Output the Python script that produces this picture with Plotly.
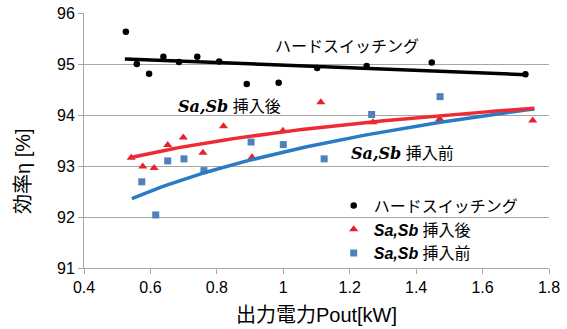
import numpy as np
import plotly.graph_objects as go

# Data
hard_x = [0.526, 0.559, 0.596, 0.639, 0.686, 0.741, 0.807, 0.890, 0.986, 1.102, 1.251, 1.447, 1.729]
hard_y = [95.63, 95.00, 94.81, 95.14, 95.04, 95.14, 95.05, 94.61, 94.63, 94.92, 94.96, 95.03, 94.80]

after_x = [0.542, 0.577, 0.611, 0.652, 0.699, 0.758, 0.820, 0.906, 0.999, 1.113, 1.270, 1.471, 1.751]
after_y = [93.16, 92.99, 92.96, 93.41, 93.56, 93.26, 93.78, 93.17, 93.69, 94.25, 93.86, 93.92, 93.89]

before_x = [0.574, 0.616, 0.652, 0.701, 0.761, 0.903, 1.000, 1.123, 1.266, 1.472]
before_y = [92.69, 92.04, 93.10, 93.14, 92.91, 93.47, 93.42, 93.14, 94.01, 94.36]

# Trendline parameters
hard_trend_x = [0.523, 1.729]
hard_trend_y = [95.10, 94.79]
after_trend = {"a": 0.82, "b": 93.67, "xmin": 0.541, "xmax": 1.756}     # y = a ln x + b
before_trend = {"a": 1.502, "b": 93.274, "xmin": 0.544, "xmax": 1.756}

x_ticks = [0.4, 0.6, 0.8, 1.0, 1.2, 1.4, 1.6, 1.8]
x_tick_text = ["0.4", "0.6", "0.8", "1", "1.2", "1.4", "1.6", "1.8"]
y_ticks = [91, 92, 93, 94, 95, 96]

names = ["ハードスイッチング", "<b><i>Sa,Sb</i></b> 挿入後", "<b><i>Sa,Sb</i></b> 挿入前"]

BLACK = "#000000"
RED_M = "#E8202A"
RED_L = "#EE2A33"
BLUE_M = "#4F81BD"
BLUE_L = "#2A7BC4"

JP = "Liberation Sans, Arial, Noto Sans CJK JP"
SERIF_SASB = "<b><i><span style='font-family:DejaVu Serif'>Sa,Sb</span></i></b>"

def log_curve(p):
    xs = np.linspace(p["xmin"], p["xmax"], 60)
    return xs, p["a"] * np.log(xs) + p["b"]

fig = go.Figure()

ax, ay = log_curve(after_trend)
bx, by = log_curve(before_trend)

fig.add_trace(go.Scatter(x=hard_trend_x, y=hard_trend_y, mode="lines",
                         line=dict(color=BLACK, width=3.5), showlegend=False, hoverinfo="skip"))
fig.add_trace(go.Scatter(x=before_x, y=before_y, mode="markers", name=names[2],
                         marker=dict(symbol="square", size=7, color=BLUE_M), legendrank=3))
fig.add_trace(go.Scatter(x=after_x, y=after_y, mode="markers", name=names[1],
                         marker=dict(symbol="triangle-up", size=8, color=RED_M), legendrank=2))
fig.add_trace(go.Scatter(x=bx, y=by, mode="lines",
                         line=dict(color=BLUE_L, width=3.5), showlegend=False, hoverinfo="skip"))
fig.add_trace(go.Scatter(x=ax, y=ay, mode="lines",
                         line=dict(color=RED_L, width=3.5), showlegend=False, hoverinfo="skip"))
fig.add_trace(go.Scatter(x=hard_x, y=hard_y, mode="markers", name=names[0],
                         marker=dict(symbol="circle", size=6.5, color=BLACK), legendrank=1))

fig.update_layout(
    width=567, height=329,
    margin=dict(l=84, r=18, t=13, b=61),
    paper_bgcolor="white", plot_bgcolor="white",
    font=dict(family=JP, size=16, color="#000"),
    showlegend=True,
    legend=dict(x=0.537, xanchor="left", y=-0.01, yanchor="bottom",
                bgcolor="rgba(0,0,0,0)", font=dict(family=JP, size=16, color="#000"),
                itemwidth=30, tracegroupgap=0),
    xaxis=dict(range=[0.4, 1.8], tickvals=x_ticks, ticktext=x_tick_text,
               showgrid=False, showline=True, linecolor="#A6A6A6", linewidth=1,
               ticks="outside", ticklen=5, tickcolor="#A6A6A6",
               tickfont=dict(family="Liberation Sans, Arial", size=16, color="#000"),
               title=dict(text="出力電力Pout[kW]", font=dict(family=JP, size=20, color="#000"),
                          standoff=12),
               zeroline=False, automargin=False),
    yaxis=dict(range=[91, 96], tickvals=y_ticks,
               showgrid=True, gridcolor="#A6A6A6", gridwidth=1,
               showline=True, linecolor="#A6A6A6", linewidth=1,
               ticks="outside", ticklen=5, tickcolor="#A6A6A6",
               tickfont=dict(family="Liberation Sans, Arial", size=16, color="#000"),
               zeroline=False, automargin=False),
)

# y-axis title (placed as in the reference, below the plot centre)
fig.add_annotation(x=(23 - 84) / 465, xref="paper", y=(268 - 171) / 255, yref="paper",
                   xanchor="center", yanchor="middle", textangle=-90,
                   text="効率η [%]", showarrow=False,
                   font=dict(family=JP, size=20, color="#000"))

fig.add_annotation(x=(347 - 84) / 465, xref="paper", y=95.35, yref="y",
                   xanchor="center", yanchor="middle",
                   text="ハードスイッチング", showarrow=False,
                   font=dict(family=JP, size=16, color="#000"))
fig.add_annotation(x=(229 - 84) / 465, xref="paper", y=94.16, yref="y",
                   xanchor="center", yanchor="middle",
                   text=SERIF_SASB + " 挿入後",
                   showarrow=False, font=dict(family=JP, size=16, color="#000"))
fig.add_annotation(x=(402 - 84) / 465, xref="paper", y=93.25, yref="y",
                   xanchor="center", yanchor="middle",
                   text=SERIF_SASB + " 挿入前",
                   showarrow=False, font=dict(family=JP, size=16, color="#000"))

fig.write_html("out.html",
               config={"displayModeBar": False},
               post_script="document.body.style.margin='0';document.documentElement.style.overflow='hidden';")
